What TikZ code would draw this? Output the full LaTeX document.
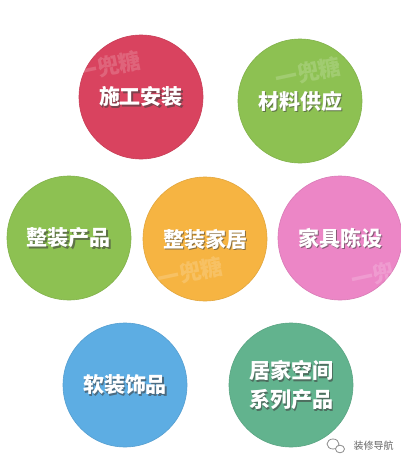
\documentclass[tikz,border=0pt]{standalone}
\usepackage{fontspec}
\newfontfamily\cjk{Noto Sans CJK SC}
\definecolor{redball}{HTML}{D9435F}
\definecolor{limeball}{HTML}{8DC152}
\definecolor{orangeball}{HTML}{F6B442}
\definecolor{pinkball}{HTML}{EC86C6}
\definecolor{blueball}{HTML}{5DADE3}
\definecolor{tealball}{HTML}{62B38E}
\tikzset{
	ball/.style={circle, minimum size=124pt, inner sep=0pt, fill=#1, draw=#1!92!black, line width=0.6pt},
	balltext/.style={font=\cjk\bfseries\fontsize{21}{29}\selectfont, text=white, align=center},
	shadowtext/.style={font=\cjk\bfseries\fontsize{21}{29}\selectfont, text=black!75, align=center, opacity=0.6},
	watermark/.style={font=\cjk\bfseries\fontsize{22}{22}\selectfont, text=white, opacity=0.18, rotate=12}
}
\begin{document}
\begin{tikzpicture}[x=1pt, y=-1pt]
\useasboundingbox[fill=white] (0,0) rectangle (400,464);

% CIRCLES
	\node [ball=redball] (install) at (141,97) {};
	\node [ball=limeball] (material) at (300,101) {};
	\node [ball=limeball] (product) at (69,238) {};
	\node [ball=orangeball] (home) at (205,239) {};
	\node [ball=pinkball] (furniture) at (340,238) {};
	\node [ball=blueball] (soft) at (125,385) {};
	\node [ball=tealball] (space) at (291,385) {};

% WATERMARKS
	\node [watermark] (wm1) at (108,66) {一兜糖};
	\node [watermark] (wm2) at (308,72) {一兜糖};
	\node [watermark] (wm3) at (190,272) {一兜糖};
	\node [watermark, anchor=east] (wm4) at (398,270) {一兜};

% LABELS
	\node [shadowtext] at ([shift={(1.2,1.6)}]install) {施工安装};
	\node [balltext] (installtext) at (install) {施工安装};
	\node [shadowtext] at ([shift={(1.2,1.6)}]material) {材料供应};
	\node [balltext] (materialtext) at (material) {材料供应};
	\node [shadowtext] at ([shift={(1.2,1.6)}]product) {整装产品};
	\node [balltext] (producttext) at (product) {整装产品};
	\node [shadowtext] at ([shift={(1.2,1.6)}]home) {整装家居};
	\node [balltext] (hometext) at (home) {整装家居};
	\node [shadowtext] at ([shift={(1.2,1.6)}]furniture) {家具陈设};
	\node [balltext] (furnituretext) at (furniture) {家具陈设};
	\node [shadowtext] at ([shift={(1.2,1.6)}]soft) {软装饰品};
	\node [balltext] (softtext) at (soft) {软装饰品};
	\node [shadowtext] at ([shift={(1.2,1.6)}]space) {居家空间\\系列产品};
	\node [balltext] (spacetext) at (space) {居家空间\\系列产品};

% LOGO
	\draw [black!45, line width=0.8pt] (333,444) ellipse (6pt and 5pt);
	\draw [black!45, line width=0.8pt, fill=white] (340,449) ellipse (4.5pt and 3.8pt);
	\node [font=\cjk\fontsize{10}{10}\selectfont, text=black!60, anchor=west] (logo) at (350,446) {装修导航};
\end{tikzpicture}
\end{document}
